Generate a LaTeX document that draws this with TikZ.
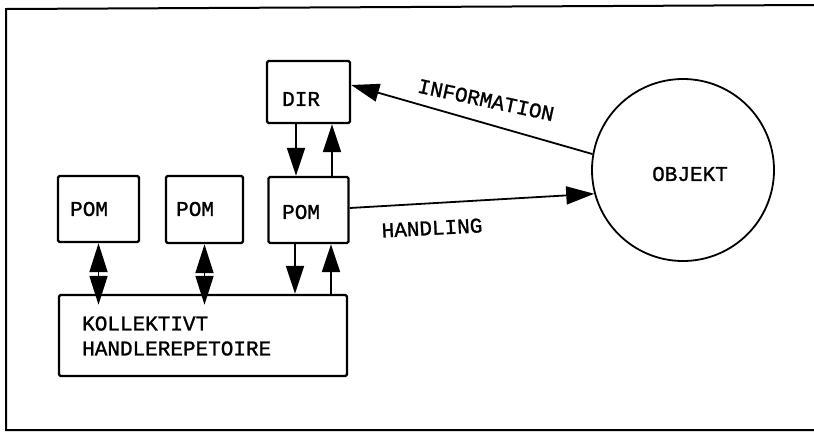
\documentclass[tikz,border=0pt]{standalone}
\usepackage{fontspec}
\setmonofont[FakeBold=1.2]{Liberation Mono}
\usetikzlibrary{arrows.meta}
\begin{document}
\begin{tikzpicture}[x=1pt,y=-1pt,
  blk/.style={draw,line width=2.4pt,rounded corners=1.5pt,inner sep=0pt},
  lbl/.style={font=\fontsize{21}{25}\selectfont\ttfamily,inner sep=0pt},
  arr/.style={line width=1.8pt,-{Triangle[length=28pt,width=18pt]}},
  dbl/.style={line width=1.8pt,{Triangle[length=29pt,width=18pt]}-{Triangle[length=29pt,width=18pt]}}]
\useasboundingbox (0,0) rectangle (814,432);
\draw[line width=2pt] (814,5) -- (6,9) -- (6,430) -- (814,430);
% boxes
\node[blk,minimum width=81pt,minimum height=66pt] (p1) at (98.5,209) {};
\node[blk,minimum width=77pt,minimum height=67pt] (p2) at (204.5,209.5) {};
\node[blk,minimum width=80pt,minimum height=66pt] (p3) at (308.5,210) {};
\node[blk,minimum width=83pt,minimum height=62pt] (dir) at (308.5,92) {};
\node[blk,minimum width=288pt,minimum height=81pt] (kol) at (203,335.5) {};
\node[draw,circle,line width=1.8pt,minimum size=182pt,inner sep=0pt] (obj) at (683,170) {};
% labels
\node[lbl,anchor=west] (t1) at (70,209) {POM};
\node[lbl,anchor=west] (t2) at (176,209) {POM};
\node[lbl,anchor=west] (t3) at (282,212) {POM};
\node[lbl,anchor=west] (t4) at (282,99) {DIR};
\node[lbl,anchor=west,align=left] (t5) at (82,336) {KOLLEKTIVT\\HANDLEREPETOIRE};
\node[lbl] (t6) at (690,174) {OBJEKT};
\node[lbl,rotate=-12] (t7) at (486,100) {INFORMATION};
\node[lbl,rotate=3] (t8) at (432,228) {HANDLING};
% arrows
\draw[arr] (dir.south -| 296,0) -- (p3.north -| 296,0);
\draw[arr] (p3.north -| 332,0) -- (dir.south -| 332,0);
\draw[arr] (p3.south -| 295,0) -- (kol.north -| 295,0);
\draw[arr] (kol.north -| 331,0) -- (p3.south -| 331,0);
\draw[dbl,shorten >=-11pt] (p1.south) -- (p1.south |- kol.north);
\draw[dbl,shorten >=-11pt] (p2.south) -- (p2.south |- kol.north);
\draw[arr] (obj.{170}) -- (dir.east |- 0,85);
\draw[arr] (p3.east |- 0,208) -- (obj.{195});
\end{tikzpicture}
\end{document}
